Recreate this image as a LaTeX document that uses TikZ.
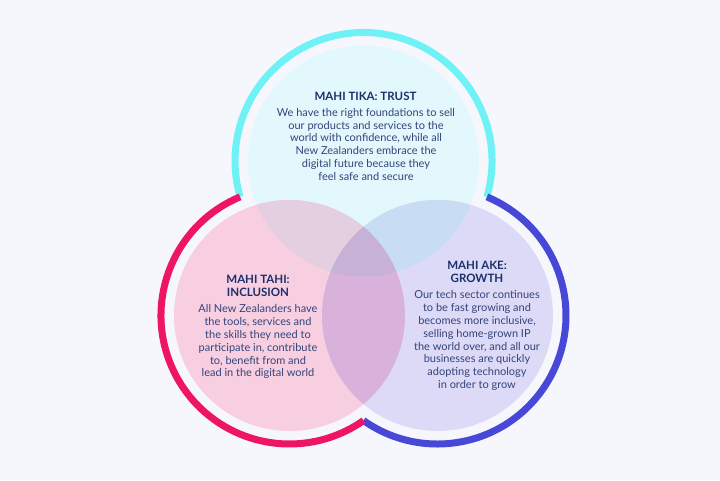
\documentclass[tikz,border=0pt]{standalone}
\usepackage{fontspec}
\setmainfont{Lato}
\definecolor{bg}{HTML}{F6F7FC}
\definecolor{topfill}{HTML}{E3F8FC}
\definecolor{leftfill}{HTML}{F7CFE1}
\definecolor{rightfill}{HTML}{DCDAF6}
\definecolor{tlfill}{HTML}{E3CFE0}
\definecolor{trfill}{HTML}{C8DCF4}
\definecolor{lrfill}{HTML}{D8B2DA}
\definecolor{allfill}{HTML}{C7B1D6}
\definecolor{ringcyan}{HTML}{6EF2F5}
\definecolor{ringpink}{HTML}{EE1466}
\definecolor{ringblue}{HTML}{4848D8}
\definecolor{titlecol}{HTML}{1B2F6B}
\definecolor{bodycol}{HTML}{34447A}
\tikzset{
  ringline/.style={line width=7pt},
  titletext/.style={align=center, text=titlecol, font=\fontsize{11.5}{13}\selectfont\bfseries, inner sep=0pt},
  bodytext/.style={align=center, text=bodycol, font=\fontsize{11}{12.8}\selectfont, inner sep=0pt},
}
\begin{document}
\begin{tikzpicture}[x=1pt,y=1pt]
\useasboundingbox (0,0) rectangle (720,480);
\fill[bg] (0,0) rectangle (720,480);
\coordinate (T) at (363.5,319);
\coordinate (L) at (289.5,164.5);
\coordinate (R) at (437.5,164.5);
\def\fr{115.5}
\def\rr{128.5}
% fills
\fill[topfill] (T) circle (\fr);
\fill[leftfill] (L) circle (\fr);
\fill[rightfill] (R) circle (\fr);
\begin{scope}
  \clip (L) circle (\fr);
  \fill[tlfill] (T) circle (\fr);
\end{scope}
\begin{scope}
  \clip (R) circle (\fr);
  \fill[trfill] (T) circle (\fr);
\end{scope}
\begin{scope}
  \clip (L) circle (\fr);
  \fill[lrfill] (R) circle (\fr);
\end{scope}
\begin{scope}
  \clip (L) circle (\fr);
  \clip (T) circle (\fr);
  \fill[allfill] (R) circle (\fr);
\end{scope}
% rings
\draw[ringline, ringcyan, shift={(T)}] (-16.2:\rr) arc[start angle=-16.2, end angle=196.2, radius=\rr];
\draw[ringline, ringblue, shift={(R)}] (234.8:\rr) arc[start angle=234.8, end angle=427.4, radius=\rr];
\draw[ringline, ringpink, shift={(L)}] (112.6:\rr) arc[start angle=112.6, end angle=305.2, radius=\rr];
% texts
\node[titletext] (ttitle) at (365.5,384) {MAHI TIKA: TRUST};
\node[bodytext, anchor=north] (tbody) at (366,372) {We have the right foundations to sell\\our products and services to the\\world with confidence, while all\\New Zealanders embrace the\\digital future because they\\feel safe and secure};
\node[titletext] (ltitle) at (258,194.5) {MAHI TAHI:\\INCLUSION};
\node[bodytext, anchor=north] (lbody) at (258,175.5) {All New Zealanders have\\the tools, services and\\the skills they need to\\participate in, contribute\\to, benefit from and\\lead in the digital world};
\node[titletext] (rtitle) at (477,208.5) {MAHI AKE:\\GROWTH};
\node[bodytext, anchor=north] (rbody) at (477,189.5) {Our tech sector continues\\to be fast growing and\\becomes more inclusive,\\selling home-grown IP\\the world over, and all our\\businesses are quickly\\adopting technology\\in order to grow};
\end{tikzpicture}
\end{document}
